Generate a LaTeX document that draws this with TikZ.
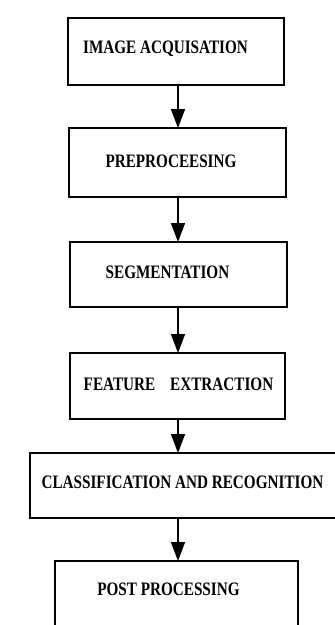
\documentclass[tikz,border=0pt]{standalone}
\usepackage{fontspec}
\setmainfont{Liberation Serif}[FakeStretch=0.8]
\usetikzlibrary{arrows.meta}
\begin{document}
\begin{tikzpicture}[x=1pt,y=-1pt,inner sep=0pt,outer sep=0pt,
stage/.style={draw,rectangle,line width=1.5pt},
lbl/.style={font=\fontsize{19}{19}\selectfont\bfseries},
flow/.style={-{Triangle[length=19pt,width=14pt]},line width=1.5pt}]
\useasboundingbox[fill=white] (0,0) rectangle (335,625);
\coordinate (axis) at (178,0);
\draw (176,51.5) node[stage,minimum width=216,minimum height=67,
  label={[lbl,xshift=-10.5pt,yshift=2.5pt]center:IMAGE ACQUISATION}] (acq) {};
\draw (177.5,162.5) node[stage,minimum width=217,minimum height=69,
  label={[lbl,xshift=-6.5pt,yshift=1.5pt]center:PREPROCEESING}] (pre) {};
\draw (178.5,274.5) node[stage,minimum width=217,minimum height=65,
  label={[lbl,xshift=-11pt,yshift=2.5pt]center:SEGMENTATION}] (seg) {};
\draw (177.5,386) node[stage,minimum width=215,minimum height=66,
  label={[lbl,xshift=1pt,yshift=2pt]center:FEATURE\hspace{15pt}EXTRACTION}] (feat) {};
\draw (187.5,485.5) node[stage,minimum width=315,minimum height=65,
  label={[lbl,xshift=-5pt,yshift=3.5pt]center:CLASSIFICATION AND RECOGNITION}] (cls) {};
\draw (176.5,600.5) node[stage,minimum width=243,minimum height=79,
  label={[lbl,xshift=-8pt,yshift=11.5pt]center:POST PROCESSING}] (post) {};
\foreach \a/\b in {acq/pre,pre/seg,seg/feat,feat/cls,cls/post}
  \draw[flow] (\a.south -| axis) -- (\b.north -| axis);
\end{tikzpicture}
\end{document}
